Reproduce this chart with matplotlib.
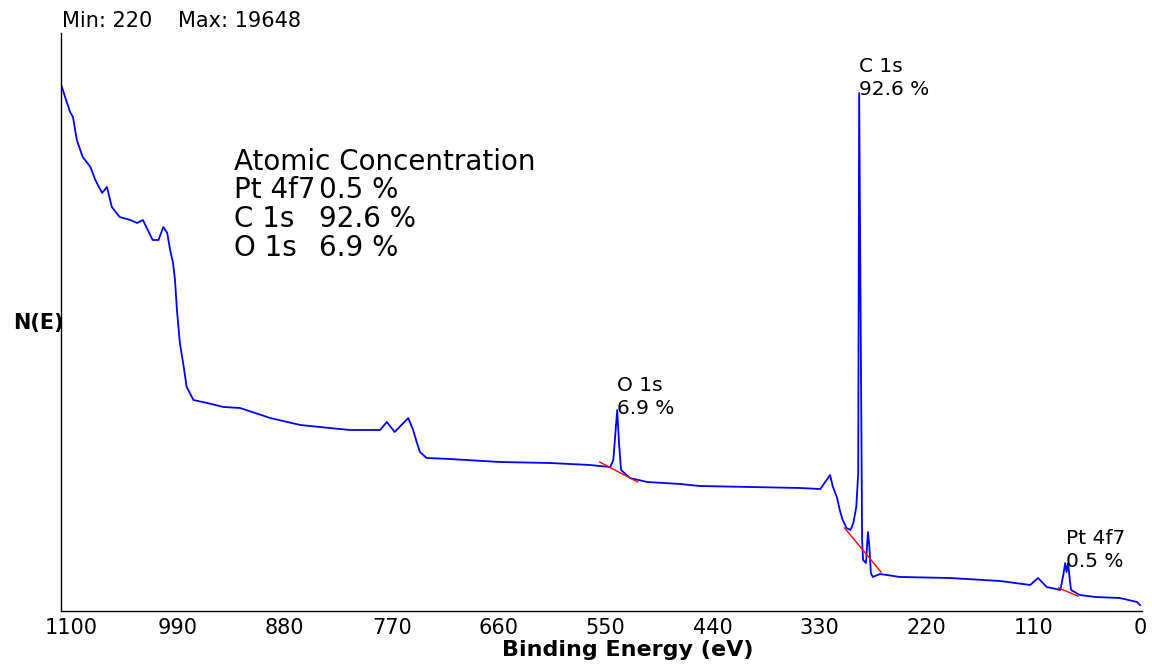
import numpy as np
import matplotlib
matplotlib.use("Agg")
import matplotlib.pyplot as plt


# survey spectrum (binding energy in eV, counts)
bindingEnergy = [1110, 1101, 1098, 1094, 1088, 1080, 1075, 1068, 1063, 1058,
                 1050, 1039, 1032, 1026, 1016, 1010, 1005, 1001, 998, 995,
                 993, 991, 988, 984, 981, 974, 960, 943, 926, 895,
                 864, 834, 813, 782, 775, 767, 753, 748, 744, 741,
                 734, 710, 659, 607, 566, 556, 545, 542, 540, 538,
                 536, 534, 525, 507, 473, 453, 401, 350, 329, 319,
                 316, 312, 309, 306, 302, 298, 295, 292, 290, 289,
                 286, 285, 282, 280, 278.5, 277, 275, 267.5, 247, 195.5,
                 144, 113, 105, 96, 82, 79, 77, 75.6, 74, 72.5,
                 71, 62, 46, 21, 3, 0]
counts = [19648, 18648, 18461, 17601, 16966, 16592, 16106, 15621, 15845, 15097,
          14724, 14612, 14500, 14612, 13864, 13864, 14350, 14126, 13491, 13005,
          12369, 11248, 10015, 9118, 8371, 7885, 7773, 7623, 7586, 7212,
          6951, 6839, 6764, 6764, 7063, 6689, 7212, 6764, 6278, 5942,
          5718, 5680, 5568, 5531, 5456, 5419, 5381, 5643, 6577, 7511,
          6203, 5269, 4970, 4821, 4746, 4671, 4634, 4597, 4559, 5082,
          4634, 4260, 3774, 3401, 3102, 3027, 3289, 3886, 5157, 19358,
          2653, 1906, 1794, 2952, 2392, 1420, 1271, 1383, 1271, 1233,
          1121, 972, 1233, 897, 785, 1345, 1794, 1457, 1794, 1233,
          785, 598, 523, 486, 336, 220]

# linear backgrounds under each peak (start, end)
bgEnergy = {"O 1s": [556, 517], "C 1s": [304, 266.5], "Pt 4f7": [84, 64]}
bgCounts = {"O 1s": [5568, 4821], "C 1s": [3102, 1457], "Pt 4f7": [860, 561]}

# peak labels: name, concentration, label position (eV, counts)
peakNames = ["C 1s", "O 1s", "Pt 4f7"]
peakConc = [92.6, 6.9, 0.5]
peakLabelEnergy = [289, 538, 76]
peakLabelCounts = [20700, 8780, 3050]

# order used in the atomic concentration table
tableNames = ["Pt 4f7", "C 1s", "O 1s"]
tableConc = [0.5, 92.6, 6.9]

xTicks = [1100, 990, 880, 770, 660, 550, 440, 330, 220, 110, 0]
minCount = 220
maxCount = 19648

W, H = 1152, 664
FONT = "DejaVu Sans"


def fx(px):
    return px / W


def fy(py):
    return 1 - py / H


fig = plt.figure(figsize=(W / 100, H / 100), dpi=100)
ax = fig.add_axes([fx(61), fy(611), fx(1142) - fx(61), fy(33) - fy(611)])

ax.plot(bindingEnergy, counts, color="#0000ff", linewidth=1.3)
for name in bgEnergy:
    ax.plot(bgEnergy[name], bgCounts[name], color="#ff0000", linewidth=1.0)

ax.set_xlim(1110.3, -2)
ax.set_ylim(0, 21600)

# axes look
for side in ["top", "right"]:
    ax.spines[side].set_visible(False)
ax.spines["left"].set_linewidth(1.0)
ax.spines["bottom"].set_linewidth(1.0)
ax.set_yticks([])
ax.set_xticks(xTicks, [str(t) for t in xTicks], fontsize=15, family=FONT)
ax.tick_params(axis="x", length=0, pad=5)

# peak annotations
for name, conc, e, c in zip(peakNames, peakConc, peakLabelEnergy, peakLabelCounts):
    ax.text(e, c, name + "\n" + str(conc) + " %", fontsize=14.5, family=FONT,
            ha="left", va="top", linespacing=1.25)

# atomic concentration table
fig.text(fx(234), fy(170), "Atomic Concentration", fontsize=20, family=FONT,
         ha="left", va="baseline")
rowBase = [198, 227, 256]
for name, conc, yb in zip(tableNames, tableConc, rowBase):
    fig.text(fx(234), fy(yb), name, fontsize=20, family=FONT, ha="left", va="baseline")
    fig.text(fx(319), fy(yb), str(conc) + " %", fontsize=20, family=FONT,
             ha="left", va="baseline")

# min / max header
fig.text(fx(62), fy(27), "Min: " + str(minCount), fontsize=15, family=FONT,
         ha="left", va="baseline")
fig.text(fx(178), fy(27), "Max: " + str(maxCount), fontsize=15, family=FONT,
         ha="left", va="baseline")

# axis titles
fig.text(fx(13), fy(323), "N(E)", fontsize=15, family=FONT, weight="bold",
         ha="left", va="center")
fig.text(fx(628), fy(650), "Binding Energy (eV)", fontsize=16, family=FONT,
         weight="bold", ha="center", va="center")

fig.savefig("out.png", dpi=100)
